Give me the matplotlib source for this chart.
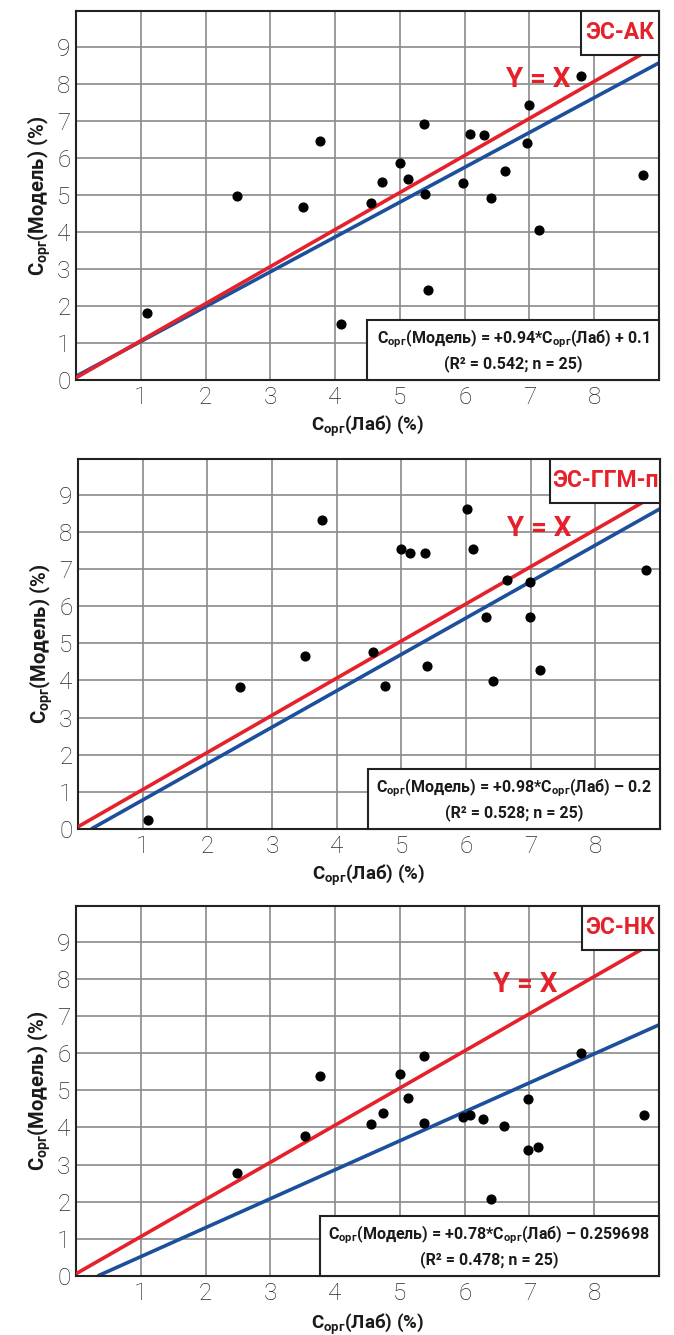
import numpy as np
import matplotlib
matplotlib.use('Agg')
import matplotlib.pyplot as plt
from matplotlib.patches import Rectangle

FONT = ['Roboto', 'DejaVu Sans']
plt.rcParams['font.family'] = FONT
plt.rcParams['mathtext.fontset'] = 'custom'
plt.rcParams['mathtext.rm'] = 'Roboto'
plt.rcParams['mathtext.bf'] = 'Roboto:bold'

# panel names
names = ['ЭС-АК', 'ЭС-ГГМ-п', 'ЭС-НК']

# ЭС-АК
ak_lab = [1.09, 2.49, 3.51, 3.77, 4.09, 4.56, 4.73, 5.00, 5.12, 5.37, 5.39,
          5.43, 5.98, 6.09, 6.30, 6.40, 6.62, 6.96, 6.99, 7.14, 7.80, 8.76]
ak_mod = [1.82, 4.98, 4.66, 6.45, 1.50, 4.78, 5.35, 5.87, 5.42, 6.92, 5.02,
          2.44, 5.31, 6.63, 6.61, 4.92, 5.64, 6.41, 7.43, 4.06, 8.20, 5.52]

# ЭС-ГГМ-п
ggm_lab = [1.08, 2.50, 3.51, 3.78, 4.56, 4.74, 5.00, 5.13, 5.37, 5.39, 6.01,
           6.11, 6.31, 6.41, 6.63, 6.99, 6.99, 7.15, 8.79]
ggm_mod = [0.24, 3.83, 4.65, 8.31, 4.77, 3.84, 7.53, 7.43, 7.43, 4.40, 8.61,
           7.54, 5.71, 3.99, 6.71, 6.65, 5.71, 4.29, 6.98]

# ЭС-НК
nk_lab = [2.49, 3.53, 3.76, 4.56, 4.74, 5.00, 5.12, 5.37, 5.37, 5.97, 6.09,
          6.29, 6.40, 6.60, 6.97, 6.98, 7.13, 7.80, 8.77]
nk_mod = [2.76, 3.78, 5.39, 4.09, 4.40, 5.45, 4.80, 5.92, 4.11, 4.27, 4.33,
          4.22, 2.07, 4.05, 3.40, 4.76, 3.48, 5.99, 4.34]

# regression: slope, intercept, R2, n
slopes = [0.94, 0.98, 0.78]
intercepts = [0.1, -0.2, -0.259698]
r2 = ['0.542', '0.528', '0.478']
n_pts = [25, 25, 25]
eq_tail = ['+ 0.1', '– 0.2', '– 0.259698']

RED = '#e5212b'
BLUE = '#1c4f9c'
SUB = r'$\mathbf{_{орг}}$'

# axes boxes in pixels: left, right, top, bottom
W, H = 674, 1335
boxes = [(76, 659, 11, 380), (78, 660, 459, 829), (76, 659, 906, 1276)]
eq_left = [4.49, 4.49, 3.76]
name_left = [7.8, 7.3, 7.81]
yx_pos = [(7.13, 8.1), (7.13, 8.1), (6.93, 7.85)]
xlab_pad = [4, 4, 5]

fig = plt.figure(figsize=(W / 100, H / 100), dpi=100)

data = [(ak_lab, ak_mod), (ggm_lab, ggm_mod), (nk_lab, nk_mod)]

for i, (xs, ys) in enumerate(data):
    l, r, t, b = boxes[i]
    ax = fig.add_axes([l / W, 1 - b / H, (r - l) / W, (b - t) / H])
    ax.set_xlim(0, 9)
    ax.set_ylim(0, 9.96)
    ax.set_xticks(range(1, 9))
    ax.set_yticks(range(0, 10))
    ax.tick_params(length=0, labelsize=17.5, labelcolor='#2a2a2a', pad=4)
    for lab in ax.get_xticklabels() + ax.get_yticklabels():
        lab.set_fontweight('light')
    for v in range(1, 10):
        ax.axvline(v, color='#8a8a8a', lw=1.2, zorder=1)
        ax.axhline(v, color='#8a8a8a', lw=1.2, zorder=1)
    for s in ax.spines.values():
        s.set_linewidth(1.5)
        s.set_color('#222222')

    # Y = X
    xr = np.array([0, 8.78])
    ax.plot(xr, xr + 0.06, color=RED, lw=2.6, zorder=3, solid_capstyle='butt')
    # regression line
    x0 = max(0, -intercepts[i] / slopes[i])
    xb = np.array([x0, 9])
    ax.plot(xb, slopes[i] * xb + intercepts[i], color=BLUE, lw=2.6, zorder=2,
            solid_capstyle='butt')

    ax.plot(xs, ys, 'o', color='black', ms=6.3, zorder=4)

    ax.text(yx_pos[i][0], yx_pos[i][1], 'Y = X', color=RED, fontsize=20,
            fontweight='bold', ha='center', va='center', zorder=5)

    # name box
    ax.add_patch(Rectangle((name_left[i], 8.78), 9 - name_left[i], 1.18,
                           facecolor='white', edgecolor='#222222', lw=1.5,
                           zorder=6, clip_on=False))
    ax.text((name_left[i] + 9) / 2, 9.37, names[i], color=RED, fontsize=16.5,
            fontweight='bold', ha='center', va='center', zorder=7)

    # equation box
    ax.add_patch(Rectangle((eq_left[i], 0), 9 - eq_left[i], 1.61,
                           facecolor='white', edgecolor='#222222', lw=1.5,
                           zorder=6, clip_on=False))
    eq = ('C' + SUB + '(Модель) = +%.2f*C' % slopes[i] + SUB + '(Лаб) '
          + eq_tail[i])
    xc = (eq_left[i] + 9) / 2
    ax.text(xc, 1.12, eq, fontsize=11.5, fontweight='bold', ha='center',
            va='center', color='#1a1a1a', zorder=7)
    ax.text(xc, 0.45, '(R² = %s; n = %d)' % (r2[i], n_pts[i]), fontsize=11.5,
            fontweight='bold', ha='center', va='center', color='#1a1a1a',
            zorder=7)

    ax.set_xlabel('C' + SUB + '(Лаб) (%)', fontsize=13.5, fontweight='bold',
                  color='#1a1a1a', labelpad=xlab_pad[i])
    ax.set_ylabel('C' + SUB + '(Модель) (%)', fontsize=14.5, fontweight='bold',
                  color='#1a1a1a', labelpad=3)

fig.savefig('out.png', dpi=100)
